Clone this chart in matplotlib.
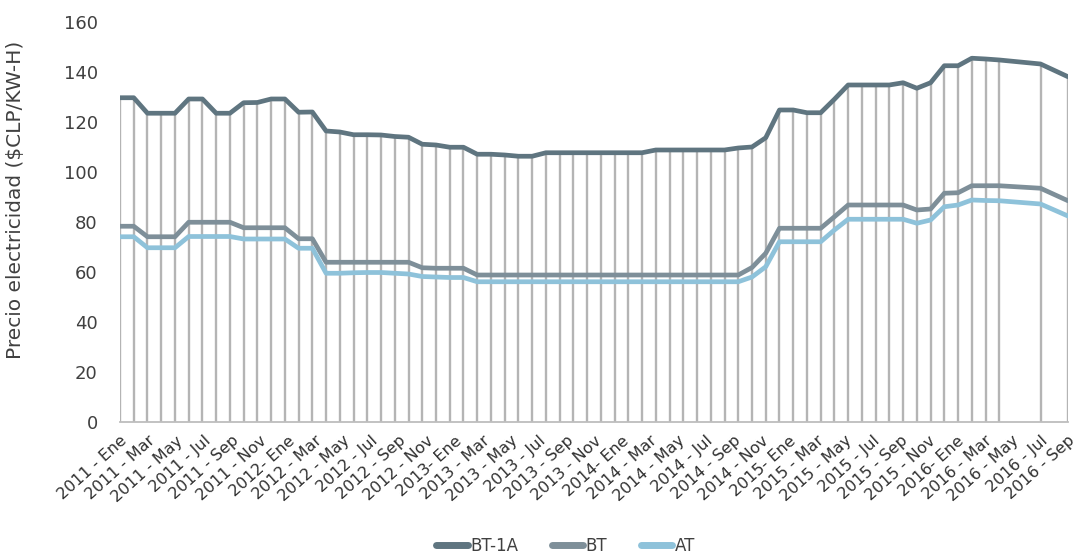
import numpy as np
import matplotlib
matplotlib.use("Agg")
import matplotlib.pyplot as plt

plt.rcParams['font.family'] = ['DejaVu Sans']

nan = np.nan

# Monthly tariff series, Jan 2011 .. Oct 2016 (70 months); nan = no published value
bt1a = [129.7, 129.7, 123.5, 123.5, 123.5, 129.2, 129.2, 123.5, 123.5, 127.7,
        127.8, 129.2, 129.2, 123.9, 124.0, 116.4, 116.0, 114.9, 114.9, 114.8,
        114.2, 113.9, 111.1, 110.8, 109.9, 109.9, 107.1, 107.1, 106.8, 106.3,
        106.3, 107.7, 107.7, 107.7, 107.7, 107.7, 107.7, 107.7, 107.7, 108.8,
        108.8, 108.8, 108.8, 108.8, 108.8, 109.6, 110.0, 113.7, 124.8, 124.8,
        123.7, 123.7, 129.1, 134.8, 134.8, 134.8, 134.8, 135.7, 133.5, 135.7,
        142.5, 142.5, 145.5, 145.2, 144.8, nan, nan, 143.2, nan, 138.1]

bt = [78.3, 78.3, 74.1, 74.1, 74.1, 79.9, 79.9, 79.9, 79.9, 77.7,
      77.7, 77.7, 77.7, 73.3, 73.3, 63.9, 63.9, 63.9, 63.9, 63.9,
      63.9, 63.9, 61.7, 61.5, 61.5, 61.5, 58.8, 58.8, 58.8, 58.8,
      58.8, 58.8, 58.8, 58.8, 58.8, 58.8, 58.8, 58.8, 58.8, 58.8,
      58.8, 58.8, 58.8, 58.8, 58.8, 58.8, 61.8, 67.5, 77.5, 77.5,
      77.5, 77.5, 82.1, 86.8, 86.8, 86.8, 86.8, 86.8, 84.8, 85.2,
      91.5, 91.7, 94.5, 94.5, 94.5, nan, nan, 93.5, nan, 88.5]

at = [74.1, 74.1, 69.7, 69.7, 69.7, 74.2, 74.2, 74.2, 74.2, 73.2,
      73.2, 73.2, 73.2, 69.5, 69.5, 59.5, 59.5, 59.7, 59.8, 59.8,
      59.5, 59.2, 58.2, 58.0, 57.8, 57.8, 56.1, 56.1, 56.1, 56.1,
      56.1, 56.1, 56.1, 56.1, 56.1, 56.1, 56.1, 56.1, 56.1, 56.1,
      56.1, 56.1, 56.1, 56.1, 56.1, 56.1, 58.0, 62.1, 72.1, 72.1,
      72.1, 72.1, 76.8, 81.1, 81.1, 81.1, 81.1, 81.1, 79.5, 80.8,
      86.1, 86.8, 88.8, 88.6, 88.5, nan, nan, 87.2, nan, 82.4]

tick_labels = []
for year in range(2011, 2017):
    for mon in ['Ene', 'Mar', 'May', 'Jul', 'Sep', 'Nov']:
        if year == 2016 and mon == 'Nov':
            continue
        sep = '- ' if mon == 'Ene' and year > 2011 else ' - '
        tick_labels.append(f"{year}{sep}{mon}")

series_names = ['BT-1A', 'BT', 'AT']
series_colors = ['#5f7580', '#7e8f99', '#8ec2da']

months = np.arange(len(bt1a))

fig = plt.figure(figsize=(10.88, 5.55), dpi=100)
ax = fig.add_axes([0.1103, 0.2396, 0.8713, 0.7208])

# Drop lines from the upper series down to the axis
top = np.array(bt1a)
valid = ~np.isnan(top)
ax.vlines(months[valid], 0, top[valid], color='#b4b4b4', lw=1.7, zorder=1)

for name, vals, col in zip(series_names, [bt1a, bt, at], series_colors):
    v = np.array(vals)
    m = ~np.isnan(v)
    ax.plot(months[m], v[m], color=col, lw=3.4, label=name,
            solid_capstyle='round', solid_joinstyle='round', zorder=3)

ax.set_xlim(0, len(bt1a) - 1)
ax.set_ylim(0, 160)
ax.set_yticks(np.arange(0, 161, 20))
ax.tick_params(axis='y', length=0, pad=16, labelsize=13, labelcolor='#404040')

ax.set_xticks(np.linspace(0, len(bt1a) - 1, len(tick_labels)))
ax.set_xticklabels(tick_labels, rotation=42, ha='right', rotation_mode='anchor',
                   fontsize=11.5, color='#303030')
ax.tick_params(axis='x', length=0, pad=8)

for s in ['top', 'right', 'left']:
    ax.spines[s].set_visible(False)
ax.spines['bottom'].set_color('#bdbdbd')
ax.spines['bottom'].set_linewidth(1.3)

ax.set_ylabel('Precio electricidad ($CLP/KW-H)', fontsize=14.5, color='#404040')
ax.yaxis.set_label_coords(-0.1, 0.555)

leg = fig.legend(loc='lower center', bbox_to_anchor=(0.52, -0.027), ncol=3,
                 frameon=False, fontsize=12, handlelength=1.9, handletextpad=0.15,
                 columnspacing=2.0)
for t in leg.get_texts():
    t.set_color('#404040')
for h in leg.get_lines():
    h.set_linewidth(5)
    h.set_solid_capstyle('round')

fig.savefig('out.png', dpi=100)
